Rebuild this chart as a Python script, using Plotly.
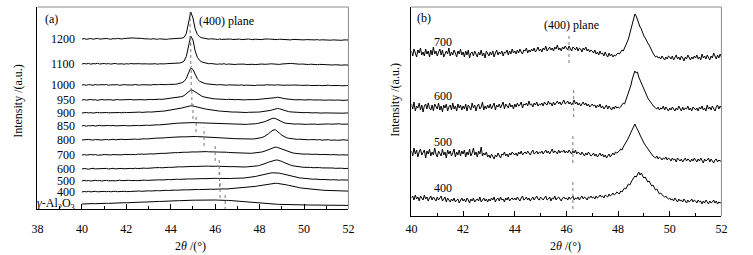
import plotly.graph_objects as go

# ---------------- Panel (a) data: 2theta 40..52 step 0.1 ----------------
labels_a = ["1200", "1100", "1000", "950", "900", "850", "800", "700", "600", "500", "400",
            "<i>γ</i>-Al<sub>2</sub>O<sub>3</sub>"]
offsets_a = [170, 145, 124, 109, 96, 83, 69, 54, 40, 28, 17, 5]
plane_a = [44.87, 44.9, 44.92, 44.95, 45.0, 45.14, 45.5, 46.0, 46.18, 46.2, 46.22, 46.45]

I1200 = [0.0, 0.4, -0.3, 0.2, 0.5, -0.2, 0.1, 0.6, -0.1, 0.3,
         0.0, 0.5, 0.2, -0.3, 0.4, 0.1, 0.6, 0.2, 0.0, 0.5,
         0.7, 1.0, 1.3, 1.1, 0.8, 0.9, 0.5, 0.6, 0.2, 0.4,
         0.1, -0.2, 0.3, 0.0, -0.3, 0.2, -0.1, 0.1, -0.4, 0.0,
         0.2, -0.2, 0.1, 0.3, 0.5, 0.9, 1.6, 5.5, 16.0, 27.0,
         21.0, 10.0, 4.5, 2.2, 1.2, 0.6, 0.2, -0.1, 0.2, -0.3,
         -0.1, -0.5, 0.0, -0.4, -0.2, -0.6, -0.3, 0.0, -0.5, -0.2,
         -0.4, -0.1, -0.6, -0.3, -0.5, 0.0, -0.4, -0.7, -0.2, -0.5,
         -0.3, -0.6, -0.1, -0.4, 0.0, -0.2, -0.5, -0.3, -0.6, -0.2,
         -0.4, -0.7, -0.3, -0.5, -0.9, -0.4, -0.6, -0.8, -0.5, -0.7,
         -0.9, -0.6, -0.8, -1.0, -0.7, -0.9, -0.6, -1.1, -0.8, -1.0,
         -0.7, -1.0, -1.2, -0.9, -1.1, -0.8, -1.0, -1.3, -0.9, -1.1, -1.0]
I1100 = [0.0, 0.5, 0.1, 0.6, -0.2, 0.4, 0.2, 0.7, 0.0, 0.3,
         0.5, 0.1, 0.4, -0.1, 0.3, 0.6, 0.0, 0.4, 0.2, -0.2,
         0.3, 0.0, 0.5, 0.2, 0.4, -0.1, 0.3, 0.1, 0.5, 0.2,
         0.0, 0.4, 0.1, 0.3, -0.2, 0.2, 0.5, 0.1, 0.3, 0.4,
         0.2, 0.5, 0.4, 0.7, 1.0, 1.6, 3.0, 7.5, 18.0, 28.0,
         24.0, 13.0, 6.5, 3.5, 2.0, 1.2, 0.7, 0.3, 0.5, 0.0,
         0.2, -0.3, 0.1, -0.2, 0.3, -0.4, 0.0, -0.3, 0.1, -0.5,
         -0.2, 0.0, -0.4, -0.1, -0.5, -0.2, 0.1, -0.3, -0.6, -0.2,
         -0.4, 0.0, -0.3, -0.5, -0.1, 0.2, 0.0, -0.3, -0.1, -0.4,
         0.0, 0.3, 0.5, 0.2, 0.6, 0.4, 0.1, 0.3, -0.2, 0.0,
         -0.3, -0.1, -0.5, -0.2, -0.6, -0.3, -0.7, -0.4, -0.8, -0.5,
         -0.7, -0.9, -0.6, -1.0, -0.7, -1.1, -0.8, -1.2, -0.9, -1.0, -1.1]
I1000 = [0.0, 0.3, -0.3, 0.4, 0.1, -0.2, 0.5, 0.0, 0.3, -0.1,
         0.2, 0.5, -0.2, 0.1, 0.4, 0.0, 0.3, -0.3, 0.2, 0.4,
         0.1, -0.1, 0.3, 0.0, 0.5, 0.2, -0.2, 0.3, 0.1, 0.4,
         0.2, 0.0, 0.4, 0.1, 0.3, 0.5, 0.2, 0.4, 0.3, 0.6,
         0.5, 0.8, 0.7, 1.1, 1.5, 2.3, 3.6, 6.5, 12.0, 17.0,
         15.5, 10.0, 6.0, 3.8, 2.6, 1.8, 1.2, 0.9, 0.6, 0.5,
         0.3, 0.1, 0.4, 0.0, 0.2, -0.2, 0.1, -0.1, 0.2, -0.3,
         0.0, -0.2, 0.1, -0.4, -0.1, -0.3, 0.0, -0.2, -0.5, -0.1,
         -0.3, 0.0, -0.2, 0.2, 0.0, 0.3, 0.1, -0.1, 0.2, -0.2,
         0.0, -0.3, -0.1, -0.4, -0.2, 0.0, -0.3, -0.5, -0.2, -0.4,
         -0.1, -0.4, -0.2, -0.5, -0.3, -0.6, -0.2, -0.4, -0.7, -0.3,
         -0.5, -0.2, -0.6, -0.4, -0.7, -0.3, -0.5, -0.8, -0.4, -0.6, -0.5]
I950 = [0.0, 0.4, -0.2, 0.3, 0.6, 0.0, 0.3, -0.3, 0.2, 0.5,
        0.1, 0.4, 0.0, 0.3, -0.2, 0.2, 0.5, 0.1, 0.3, 0.0,
        0.4, 0.2, 0.5, 0.1, 0.3, 0.6, 0.2, 0.4, 0.1, 0.5,
        0.3, 0.6, 0.4, 0.7, 0.5, 0.8, 0.6, 0.9, 1.0, 1.2,
        1.3, 1.6, 1.8, 2.2, 2.7, 3.4, 4.4, 6.0, 8.2, 10.0,
        9.6, 8.0, 6.2, 4.8, 3.8, 3.0, 2.4, 2.0, 1.7, 1.3,
        1.1, 0.9, 1.0, 0.7, 0.8, 0.5, 0.7, 0.4, 0.6, 0.3,
        0.5, 0.2, 0.4, 0.1, 0.3, 0.5, 0.2, 0.4, 0.3, 0.5,
        0.5, 0.7, 0.6, 0.9, 1.1, 1.4, 1.8, 2.3, 2.8, 2.6,
        2.0, 1.4, 1.0, 0.7, 0.5, 0.4, 0.2, 0.4, 0.1, 0.3,
        0.0, 0.2, -0.1, 0.3, 0.0, 0.2, -0.2, 0.1, -0.1, 0.2,
        -0.2, 0.0, -0.3, 0.1, -0.2, 0.0, -0.3, -0.1, -0.4, -0.1, -0.2]
I900 = [0.0, 0.3, 0.5, 0.1, 0.4, -0.1, 0.3, 0.6, 0.2, 0.4,
        0.0, 0.5, 0.2, 0.4, 0.1, 0.6, 0.3, 0.5, 0.2, 0.7,
        0.4, 0.6, 0.3, 0.8, 0.5, 0.7, 0.9, 0.6, 1.0, 0.8,
        1.1, 0.9, 1.2, 1.4, 1.3, 1.6, 1.8, 1.9, 2.2, 2.5,
        2.8, 3.1, 3.5, 3.9, 4.4, 5.0, 5.6, 6.2, 6.8, 7.2,
        7.0, 6.6, 6.0, 5.4, 4.8, 4.3, 3.8, 3.4, 3.0, 2.7,
        2.4, 2.2, 1.9, 1.8, 1.5, 1.4, 1.2, 1.1, 0.9, 1.0,
        0.8, 0.9, 0.6, 0.8, 0.5, 0.7, 0.6, 0.8, 0.7, 0.9,
        1.0, 1.2, 1.4, 1.7, 2.1, 2.6, 3.3, 4.0, 4.5, 4.2,
        3.4, 2.6, 1.9, 1.4, 1.1, 0.9, 0.6, 0.7, 0.4, 0.6,
        0.3, 0.5, 0.2, 0.4, 0.1, 0.3, 0.0, 0.2, -0.1, 0.1,
        0.0, 0.2, -0.2, 0.0, -0.1, 0.1, -0.3, 0.0, -0.2, 0.1, -0.1]
I850 = [0.0, 0.5, -0.2, 0.4, 0.1, 0.6, -0.1, 0.3, 0.7, 0.2,
        0.4, 0.0, 0.5, 0.2, 0.6, 0.1, 0.3, 0.7, 0.2, 0.5,
        0.3, 0.6, 0.2, 0.4, 0.1, 0.5, 0.3, 0.6, 0.4, 0.8,
        0.6, 0.9, 0.7, 1.0, 1.2, 1.1, 1.4, 1.6, 1.8, 1.9,
        2.1, 2.4, 2.5, 2.8, 2.9, 3.1, 3.2, 3.4, 3.3, 3.5,
        3.4, 3.3, 3.5, 3.2, 3.1, 3.0, 2.8, 2.9, 2.6, 2.5,
        2.4, 2.2, 2.3, 2.0, 2.1, 1.9, 1.8, 2.0, 1.7, 1.9,
        1.6, 1.8, 1.5, 1.7, 1.6, 1.8, 1.7, 2.0, 2.2, 2.5,
        2.9, 3.4, 4.1, 5.0, 6.0, 7.0, 7.8, 7.6, 6.4, 5.0,
        3.9, 3.2, 2.7, 2.4, 2.2, 2.1, 1.9, 2.1, 1.8, 2.0,
        1.9, 1.6, 1.8, 2.0, 1.7, 1.9, 1.6, 1.8, 2.0, 1.7,
        1.9, 2.1, 1.8, 2.0, 1.7, 1.9, 2.2, 1.8, 2.0, 1.7, 1.9]
I800 = [0.0, 0.4, 0.1, 0.6, 0.2, -0.1, 0.5, 0.2, 0.6, 0.0,
        0.3, 0.6, 0.1, 0.4, 0.7, 0.2, 0.5, 0.3, 0.8, 0.4,
        0.6, 0.2, 0.7, 0.5, 0.9, 0.6, 1.0, 0.8, 1.2, 1.0,
        1.4, 1.3, 1.6, 1.8, 1.7, 2.0, 2.2, 2.1, 2.4, 2.6,
        2.5, 2.8, 2.7, 3.0, 2.9, 3.2, 3.1, 3.3, 3.2, 3.4,
        3.3, 3.5, 3.4, 3.3, 3.5, 3.2, 3.4, 3.1, 3.0, 2.8,
        2.9, 2.6, 2.5, 2.3, 2.1, 2.0, 1.8, 1.6, 1.5, 1.3,
        1.2, 1.0, 1.1, 0.8, 0.9, 0.7, 0.8, 1.0, 1.2, 1.5,
        1.9, 2.5, 3.3, 4.6, 6.3, 8.2, 9.8, 10.4, 9.0, 6.8,
        4.8, 3.4, 2.4, 1.8, 1.4, 1.0, 0.8, 0.6, 0.8, 0.5,
        0.3, 0.5, 0.2, 0.4, 0.0, 0.3, 0.1, 0.4, -0.1, 0.2,
        0.0, 0.3, -0.2, 0.1, 0.0, -0.3, 0.1, -0.1, 0.2, -0.2, 0.0]
I700 = [0.0, 0.4, -0.1, 0.3, 0.5, 0.1, 0.4, -0.2, 0.3, 0.1,
        0.5, 0.2, 0.6, 0.0, 0.4, 0.2, 0.5, 0.3, 0.1, 0.6,
        0.3, 0.7, 0.4, 0.6, 0.3, 0.8, 0.5, 0.9, 0.7, 1.0,
        0.8, 1.2, 1.0, 1.3, 1.5, 1.4, 1.7, 1.6, 1.9, 2.0,
        2.2, 2.1, 2.4, 2.3, 2.6, 2.5, 2.8, 2.7, 3.0, 2.9,
        3.1, 3.0, 3.2, 3.1, 3.3, 3.2, 3.4, 3.2, 3.3, 3.1,
        3.2, 3.0, 2.9, 3.0, 2.7, 2.8, 2.5, 2.4, 2.2, 2.1,
        1.9, 1.8, 1.6, 1.7, 1.5, 1.6, 1.7, 1.9, 2.0, 2.3,
        2.6, 3.0, 3.6, 4.4, 5.4, 6.4, 7.3, 7.9, 7.6, 6.8,
        5.8, 4.8, 3.9, 3.1, 2.5, 2.0, 1.7, 1.4, 1.3, 1.1,
        0.8, 1.0, 0.7, 0.9, 0.6, 0.8, 0.5, 0.7, 0.4, 0.6,
        0.3, 0.5, 0.2, 0.4, 0.1, 0.3, 0.0, 0.2, -0.1, 0.1, 0.0]
I600 = [0.0, 0.5, 0.2, -0.2, 0.4, 0.7, 0.1, 0.3, -0.1, 0.5,
        0.2, 0.6, 0.0, 0.4, 0.7, 0.1, 0.5, 0.3, 0.6, 0.2,
        0.5, 0.1, 0.6, 0.3, 0.8, 0.4, 0.7, 0.5, 0.9, 0.6,
        1.0, 0.8, 1.1, 1.3, 1.0, 1.4, 1.2, 1.6, 1.5, 1.7,
        1.6, 1.9, 1.8, 2.0, 2.2, 2.1, 2.3, 2.2, 2.5, 2.4,
        2.6, 2.5, 2.7, 2.6, 2.8, 2.7, 2.9, 2.8, 2.6, 2.9,
        2.7, 2.8, 2.6, 2.5, 2.7, 2.4, 2.5, 2.3, 2.4, 2.2,
        2.3, 2.1, 2.2, 2.0, 2.1, 2.2, 2.4, 2.5, 2.8, 3.1,
        3.6, 4.2, 5.0, 5.9, 6.8, 7.7, 8.4, 8.8, 9.0, 8.5,
        7.6, 6.5, 5.4, 4.5, 3.8, 3.2, 2.7, 2.4, 2.1, 1.9,
        1.7, 1.8, 1.5, 1.6, 1.3, 1.5, 1.2, 1.4, 1.1, 1.2,
        0.9, 1.1, 0.8, 1.0, 0.7, 0.9, 0.6, 0.8, 0.5, 0.7, 0.6]
I500 = [0.0, 0.6, 0.1, 0.5, -0.1, 0.4, 0.7, 0.2, 0.5, 0.0,
        0.4, 0.7, 0.2, 0.6, 0.3, 0.1, 0.5, 0.8, 0.3, 0.6,
        0.2, 0.7, 0.4, 0.8, 0.5, 0.3, 0.7, 0.5, 0.9, 0.6,
        0.8, 1.0, 0.7, 1.1, 0.9, 1.2, 1.0, 1.3, 1.2, 1.5,
        1.3, 1.6, 1.5, 1.8, 1.6, 1.9, 1.8, 2.0, 2.1, 2.0,
        2.2, 2.1, 2.3, 2.2, 2.4, 2.3, 2.5, 2.4, 2.6, 2.5,
        2.7, 2.6, 2.5, 2.7, 2.6, 2.4, 2.6, 2.5, 2.7, 2.6,
        2.8, 2.7, 2.9, 3.0, 3.2, 3.4, 3.7, 4.0, 4.5, 5.0,
        5.6, 6.2, 6.8, 7.3, 7.7, 8.0, 8.2, 8.3, 8.1, 7.8,
        7.3, 6.7, 6.0, 5.4, 4.8, 4.3, 3.8, 3.5, 3.1, 2.9,
        2.6, 2.4, 2.2, 2.0, 1.8, 1.9, 1.6, 1.7, 1.4, 1.5,
        1.2, 1.4, 1.1, 1.3, 1.0, 1.2, 0.9, 1.1, 0.8, 1.0, 0.9]
I400 = [0.0, 0.5, 0.2, 0.6, 0.1, 0.4, 0.7, 0.2, 0.5, 0.1,
        0.6, 0.3, 0.7, 0.2, 0.5, 0.8, 0.3, 0.6, 0.4, 0.7,
        0.4, 0.8, 0.5, 0.7, 0.9, 0.6, 1.0, 0.7, 1.1, 0.9,
        1.2, 1.0, 1.3, 1.1, 1.4, 1.2, 1.5, 1.4, 1.7, 1.5,
        1.8, 1.6, 1.9, 1.8, 2.1, 1.9, 2.2, 2.1, 2.3, 2.2,
        2.4, 2.3, 2.5, 2.4, 2.6, 2.5, 2.7, 2.6, 2.8, 2.7,
        2.9, 2.8, 3.0, 2.9, 3.1, 3.0, 3.2, 3.1, 3.3, 3.4,
        3.5, 3.7, 3.8, 4.0, 4.3, 4.5, 4.9, 5.2, 5.6, 6.0,
        6.4, 6.9, 7.3, 7.7, 8.0, 8.3, 8.5, 8.7, 8.6, 8.4,
        8.1, 7.7, 7.2, 6.7, 6.1, 5.6, 5.1, 4.7, 4.3, 3.9,
        3.6, 3.3, 3.0, 2.8, 2.5, 2.4, 2.2, 2.0, 1.9, 1.7,
        1.6, 1.4, 1.5, 1.2, 1.3, 1.0, 1.1, 0.9, 1.0, 0.8, 0.9]
Igamma = [0.0, 0.2, 0.1, 0.3, 0.2, 0.4, 0.3, 0.5, 0.4, 0.6,
          0.5, 0.7, 0.6, 0.8, 0.8, 1.0, 0.9, 1.1, 1.1, 1.3,
          1.2, 1.4, 1.4, 1.6, 1.5, 1.7, 1.7, 1.9, 1.9, 2.1,
          2.0, 2.2, 2.3, 2.4, 2.4, 2.6, 2.6, 2.8, 2.8, 3.0,
          3.0, 3.1, 3.2, 3.3, 3.3, 3.5, 3.5, 3.6, 3.7, 3.7,
          3.8, 3.8, 3.9, 3.9, 4.0, 4.0, 4.1, 4.0, 4.1, 4.0,
          4.0, 3.9, 4.0, 3.8, 3.8, 3.6, 3.6, 3.4, 3.3, 3.1,
          2.9, 2.7, 2.5, 2.2, 2.0, 1.7, 1.5, 1.2, 1.0, 0.8,
          0.6, 0.4, 0.3, 0.1, 0.0, -0.1, -0.2, -0.3, -0.3, -0.4,
          -0.5, -0.5, -0.6, -0.6, -0.7, -0.7, -0.8, -0.8, -0.8, -0.9,
          -0.9, -0.9, -1.0, -1.0, -1.0, -1.1, -1.1, -1.1, -1.1, -1.2,
          -1.2, -1.2, -1.2, -1.3, -1.3, -1.3, -1.3, -1.4, -1.4, -1.4, -1.4]
series_a = [I1200, I1100, I1000, I950, I900, I850, I800, I700, I600, I500, I400, Igamma]

# ---------------- Panel (b) data: 2theta 40..52 step 0.05 ----------------
labels_b = ["700", "600", "500", "400"]
offsets_b = [163, 109, 63, 17]
plane_b = [46.1, 46.28, 46.25, 46.25]

J700 = [2, -3, 4, -1, -4, 3, 0, 5, -2, 1, -3, 4, -1, 2, -4, 3, -2, 6, -1, 2,
        -3, 1, 4, -2, 3, -4, 0, 2, -1, 5, -3, 1, -2, 3, 0, -4, 2, -1, 4, -2,
        1, -4, 2, -2, 3, -5, 0, 1, -3, 2, -1, -4, 1, -2, 3, -3, 0, -5, 2, -1,
        -3, 1, -2, 2, -4, 0, 3, -2, 1, -1, 2, -3, 1, 0, 3, -2, 2, -1, 4, 0,
        2, -1, 3, 0, 4, 1, -1, 3, 2, 5, 0, 3, 1, 4, 2, 5, 1, 3, 6, 2,
        4, 1, 5, 3, 7, 2, 4, 6, 3, 5, 2, 6, 4, 8, 3, 5, 2, 6, 4, 7,
        5, 3, 7, 4, 2, 6, 5, 3, 6, 2, 5, 4, 1, 5, 3, 6, 2, 4, 1, 3,
        2, 0, 3, -1, 1, -2, 2, -1, 0, -3, 1, -2, -4, 0, -3, -1, -4, -2, -3, -1,
        0, -1, 1, 3, 2, 5, 7, 10, 14, 19, 24, 30, 35, 39, 37, 33, 30, 26, 24, 20,
        17, 15, 12, 10, 8, 5, 3, 0, -2, -4, -3, -5, -4, -6, -3, -5, -7, -4, -6, -3,
        -4, -6, -3, -7, -5, -2, -6, -4, -7, -3, -5, -8, -4, -6, -2, -5, -7, -4, -6, -3,
        -5, -2, -6, -4, -7, -1, -5, -3, -6, -2, -4, -7, -3, -5, 0, -4, -6, -2, -5, -1,
        -4]
J600 = [3, -2, 5, -4, 1, -1, 4, -3, 2, -5, 1, 3, -2, 4, -1, -3, 2, -4, 3, 0,
        -2, 4, -3, 1, -5, 2, -1, 3, -4, 0, 2, -3, 4, -2, 1, -4, 3, -1, 2, -3,
        1, -2, 3, -4, 2, 0, -3, 4, -1, 2, -4, 1, 3, -2, 0, 5, -3, 1, -2, 2,
        -1, 3, -2, 1, 4, -3, 2, 0, 3, -1, 2, 5, -2, 3, 1, -1, 4, 0, 2, -2,
        3, 0, 4, 1, 2, 5, -1, 3, 2, 4, 1, 6, 2, 3, 0, 4, 2, 5, 1, 3,
        2, 4, 1, 5, 3, 2, 6, 3, 4, 1, 5, 2, 4, 6, 3, 5, 2, 4, 7, 3,
        4, 6, 3, 5, 2, 4, 7, 3, 5, 2, 4, 1, 3, 5, 2, 4, 1, 3, 0, 2,
        3, 1, 2, -1, 2, 0, 3, -1, 1, -2, 0, 2, -2, 1, -1, -3, 0, -2, 1, -1,
        0, -1, 0, 2, 4, 3, 7, 9, 13, 17, 22, 28, 32, 36, 34, 35, 30, 27, 24, 20,
        17, 14, 12, 9, 7, 5, 3, 1, 0, -1, -2, 0, -3, -1, -2, 1, -3, 0, -2, -4,
        -1, -3, 0, -2, -4, -1, -3, 1, -2, -4, 0, -3, -1, -2, 1, -3, -1, -4, 0, -2,
        -3, -1, -4, 0, -2, 1, -3, -1, -4, 2, -2, 0, -3, 1, -1, -4, 0, 2, -2, 1,
        -1]
J500 = [2, -3, 5, -1, 3, -4, 1, 4, -2, 0, 3, -5, 2, -1, 4, -3, 1, -2, 5, -1,
        -4, 2, 0, -3, 4, -2, 1, -5, 3, -1, 2, -3, 0, 4, -4, 1, -2, 3, -3, 2,
        -1, 3, -4, 1, -2, 4, -3, 0, 5, -2, 1, -4, 2, -1, 6, -3, 0, -2, 1, -4,
        -2, -5, -1, -3, -6, -2, -4, 0, -3, -5, -1, -2, 1, -3, -1, -4, 0, -2, 1, -1,
        -2, 0, -3, 1, -1, 2, -2, 0, 1, -1, 2, 0, -2, 1, 3, -1, 0, 2, -1, 1,
        0, 2, -1, 1, 3, 0, 2, -1, 1, 4, 0, 2, 1, -1, 3, 0, 2, 1, 3, 0,
        2, 0, 3, 1, -1, 2, 0, 3, -1, 1, 0, -2, 1, -1, -3, 0, -2, 1, -1, -3,
        -2, 0, -3, -1, -4, -2, 0, -3, -1, -4, -2, -5, -3, -1, -4, -2, 0, -2, 1, 0,
        1, 2, 4, 3, 6, 8, 10, 12, 15, 18, 21, 24, 27, 29, 26, 24, 21, 18, 15, 12,
        10, 8, 6, 4, 2, 0, -2, -3, -4, -5, -3, -6, -4, -5, -7, -5, -6, -4, -7, -5,
        -6, -8, -5, -7, -6, -9, -5, -7, -8, -6, -9, -7, -5, -8, -6, -7, -9, -6, -8, -5,
        -7, -9, -6, -8, -5, -7, -10, -6, -8, -7, -5, -9, -6, -8, -10, -7, -6, -9, -7, -8,
        -8]
J400 = [1, 3, -1, 4, 0, 2, -2, 3, 1, -1, 4, 0, 2, -2, 1, 3, -1, 2, 0, -2,
        2, -1, 1, 3, -2, 0, 2, -3, 1, -1, -3, 0, -2, 1, -3, -1, 0, -4, -1, 1,
        -2, 0, -3, 1, -1, -4, 0, -2, 1, -3, -1, 0, -2, 2, -3, -1, 1, -2, 0, -3,
        0, -2, 1, -1, 2, -3, 0, 1, -2, 2, -1, 0, -3, 1, -1, 2, -2, 0, 1, -1,
        1, -1, 2, 0, -2, 1, 3, -1, 0, 2, -1, 1, -2, 0, 2, -1, 1, 3, 0, -1,
        2, 0, -1, 1, 3, -1, 0, 2, -2, 1, 0, 3, -1, 1, 2, 0, -2, 1, 2, 0,
        1, -1, 2, 0, 1, 3, -1, 1, 0, 2, -1, 1, 3, 0, 2, 1, -1, 2, 1, 3,
        1, 2, 0, 3, 1, 2, 4, 2, 3, 1, 4, 3, 2, 5, 3, 4, 6, 4, 5, 7,
        6, 5, 8, 7, 9, 11, 10, 13, 15, 14, 17, 19, 21, 23, 22, 25, 27, 24, 26, 23,
        21, 22, 19, 17, 18, 15, 13, 14, 11, 9, 10, 7, 5, 6, 4, 3, 2, 3, 1, 0,
        1, -1, 0, -2, 1, -1, -3, 0, -2, -1, -3, 0, -2, -4, -1, -3, -2, 0, -3, -1,
        -2, -4, -1, -3, -2, -5, -2, -4, -1, -3, -5, -2, -4, -3, -1, -4, -2, -5, -3, -4,
        -3]
series_b = [J700, J600, J500, J400]

# ---------------- figure ----------------
W, H = 753, 255
FONT = "Liberation Serif"
fig = go.Figure()

for vals, off in zip(series_a, offsets_a):
    xs = [round(40 + 0.1 * i, 3) for i in range(len(vals))]
    fig.add_trace(go.Scatter(x=xs, y=[off + v for v in vals], mode="lines",
                             line=dict(color="black", width=1), xaxis="x", yaxis="y",
                             showlegend=False, hoverinfo="skip"))

# dotted (400) markers, panel (a)
dx, dy = [], []
for p, off, vals in zip(plane_a, offsets_a, series_a):
    top = off + max(10, max(vals) + 2)
    dx += [p, p, None]
    dy += [off - 6, top, None]
fig.add_trace(go.Scatter(x=dx, y=dy, mode="lines", line=dict(color="#777", width=1, dash="dot"),
                         xaxis="x", yaxis="y", showlegend=False, hoverinfo="skip"))

for vals, off in zip(series_b, offsets_b):
    xs = [round(40 + 0.05 * i, 3) for i in range(len(vals))]
    fig.add_trace(go.Scatter(x=xs, y=[off + v for v in vals], mode="lines",
                             line=dict(color="black", width=1), xaxis="x2", yaxis="y2",
                             showlegend=False, hoverinfo="skip"))

dx, dy = [], []
for p, off in zip(plane_b, offsets_b):
    dx += [p, p, None]
    dy += [off - 10, off + 19, None]
fig.add_trace(go.Scatter(x=dx, y=dy, mode="lines", line=dict(color="#777", width=1, dash="dot"),
                         xaxis="x2", yaxis="y2", showlegend=False, hoverinfo="skip"))

TF = dict(size=12, family=FONT, color="black")
ann = []
for lab, off in zip(labels_a, offsets_a):
    ann.append(dict(x=39.78, y=off, xref="x", yref="y", text=lab, showarrow=False,
                    xanchor="right", yanchor="middle", font=TF))
for lab, off in zip(labels_b, offsets_b):
    ann.append(dict(x=40.78, y=off + 11, xref="x2", yref="y2", text=lab, showarrow=False,
                    xanchor="left", yanchor="middle", font=TF))

ann += [
    dict(x=38.62, y=190, xref="x", yref="y", text="(a)", showarrow=False,
         xanchor="center", yanchor="middle", font=TF),
    dict(x=46.5, y=188, xref="x", yref="y", text="(400) plane", showarrow=False,
         xanchor="center", yanchor="middle", font=TF),
    dict(x=40.5, y=198, xref="x2", yref="y2", text="(b)", showarrow=False,
         xanchor="center", yanchor="middle", font=TF),
    dict(x=46.2, y=191, xref="x2", yref="y2", text="(400) plane", showarrow=False,
         xanchor="center", yanchor="middle", font=TF),
    dict(x=12 / W, y=1 - 101 / H, xref="paper", yref="paper", text="Intensity /(a.u.)",
         textangle=-90, showarrow=False, xanchor="center", yanchor="middle", font=TF),
    dict(x=395 / W, y=1 - 100 / H, xref="paper", yref="paper", text="Intensity /(a.u.)",
         textangle=-90, showarrow=False, xanchor="center", yanchor="middle", font=TF),
    dict(x=187 / W, y=1 - 246 / H, xref="paper", yref="paper", text="2<i>θ</i> /(°)",
         showarrow=False, xanchor="center", yanchor="middle", font=TF),
    dict(x=569 / W, y=1 - 246 / H, xref="paper", yref="paper", text="2<i>θ</i> /(°)",
         showarrow=False, xanchor="center", yanchor="middle", font=TF),
]

# top and right frame edges are drawn lighter than the black left/bottom axes
shapes = []
for xr, yr in (("x domain", "y domain"), ("x2 domain", "y2 domain")):
    shapes.append(dict(type="line", xref=xr, yref=yr, x0=0, x1=1, y0=1, y1=1,
                       line=dict(color="#8a8a8a", width=1)))
    shapes.append(dict(type="line", xref=xr, yref=yr, x0=1, x1=1, y0=0, y1=1,
                       line=dict(color="#8a8a8a", width=1)))

xcommon = dict(showline=True, linecolor="black", linewidth=1, mirror=False, showgrid=False,
               zeroline=False, ticks="inside", ticklen=5, tickwidth=1, tickcolor="black",
               dtick=2, tickfont=TF,
               minor=dict(dtick=1, ticks="inside", ticklen=3, tickcolor="black", showgrid=False))
ycommon = dict(showline=True, linecolor="black", linewidth=1, mirror=False, showgrid=False,
               zeroline=False, showticklabels=False, ticks="")

fig.update_layout(
    width=W, height=H, margin=dict(l=0, r=0, t=0, b=0),
    paper_bgcolor="white", plot_bgcolor="white",
    font=dict(family=FONT, size=12, color="black"),
    xaxis=dict(domain=[32 / W, 348 / W], range=[38, 52], tick0=38, anchor="y",
               ticklabelstandoff=9, **xcommon),
    yaxis=dict(domain=[1 - 209 / H, 1 - 7 / H], range=[0, 202], anchor="x", **ycommon),
    xaxis2=dict(domain=[412 / W, 727 / W], range=[40, 52], tick0=40, anchor="y2",
                ticklabelstandoff=2, **xcommon),
    yaxis2=dict(domain=[1 - 216 / H, 1 - 7 / H], range=[0, 209], anchor="x2", **ycommon),
    annotations=ann,
    shapes=shapes,
)

fig.write_html("out.html", config={"displayModeBar": False},
               post_script="document.body.style.margin='0';document.body.style.padding='0';")
